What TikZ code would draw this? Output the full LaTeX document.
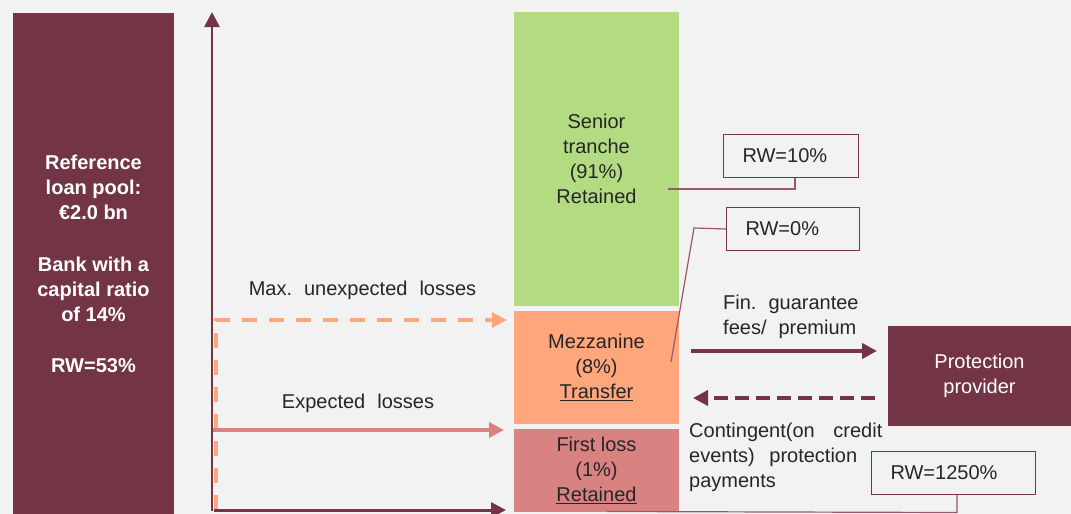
\documentclass[tikz,border=0pt]{standalone}
\usepackage{fontspec}
\setmainfont{Liberation Sans}
\usetikzlibrary{arrows.meta}
\definecolor{bg}{HTML}{F2F2F2}
\definecolor{maroon}{HTML}{733545}
\definecolor{sgreen}{HTML}{B3DC82}
\definecolor{morange}{HTML}{FFA67C}
\definecolor{fsalmon}{HTML}{D98282}
\definecolor{calloutc}{HTML}{9A5767}
\definecolor{txt}{HTML}{262626}
\newcommand\wsp{\hspace{12pt}}
\begin{document}
\begin{tikzpicture}[x=1pt,y=-1pt,
  every node/.style={font=\fontsize{20}{25}\selectfont, inner sep=0pt},
  block/.style={rectangle, align=center, text=txt, minimum width=165pt},
  rwbox/.style={draw=maroon, line width=1pt, minimum height=43pt, inner xsep=19pt, align=left, anchor=north west, text=txt},
  callout/.style={draw=calloutc, line width=1.2pt},
  tipA/.style={-{Triangle[length=15pt,width=15pt]}},
  lbl/.style={align=left, text=txt}
]
\useasboundingbox (0,0) rectangle (1071,514);
\fill[bg] (0,0) rectangle (1071,514);

% left pool box
\node[rectangle, fill=maroon, minimum width=161pt, minimum height=501pt, align=center, text=white, font=\fontsize{20}{25}\selectfont\bfseries] (pool) at (93.5,263.5)
  {Reference\\loan pool:\\€2.0 bn\\[27pt]Bank with a\\capital ratio\\of 14\%\\[26pt]RW=53\%};

% tranches
\node[block, fill=sgreen, minimum height=294pt] (senior) at (596.5,159) {Senior\\tranche\\(91\%)\\Retained};
\node[block, fill=morange, minimum height=113pt] (mezz) at (596.5,367.5) {Mezzanine\\(8\%)\\\underline{Transfer}};
\node[block, fill=fsalmon, minimum height=83pt] (first) at (596.5,470.5) {First loss\\(1\%)\\\underline{Retained}};

% protection provider
\node[rectangle, fill=maroon, minimum width=183pt, minimum height=100pt, align=center, text=white] (prot) at (979.5,376) {Protection\\provider};

% RW boxes
\node[rwbox, text width=97pt] (rw10) at (723,134) {RW=10\%};
\node[rwbox, text width=95pt] (rw0) at (726,207) {RW=0\%};
\node[rwbox, text width=126pt] (rw1250) at (871,451) {RW=1250\%};

% labels
\node[lbl] (maxlbl) at (362.5,290) {Max.\wsp unexpected\wsp losses};
\node[lbl] (explbl) at (358,403) {Expected\wsp losses};
\node[lbl, anchor=west] (finlbl) at (723,316.5) {Fin.\wsp guarantee\\fees/\wsp premium};
\node[lbl, anchor=west] (contlbl) at (689,457) {Contingent(on\hspace{18.6pt}credit\\events)\hspace{14.6pt}protection\\payments};

% coordinates
\coordinate (axbot) at (212,511);
\coordinate (axtop) at (212,12);
\coordinate (dstart) at (216,510);
\coordinate (dcorner) at (216,320);
\coordinate (dend) at (507,320);
\coordinate (estart) at (213,430);
\coordinate (eend) at (504,430);
\coordinate (bstart) at (214,510);
\coordinate (bend) at (506,510);
\coordinate (fstart) at (691,351);
\coordinate (fend) at (877,351);
\coordinate (cstart) at (875,398);
\coordinate (cend) at (693,398);
\coordinate (c10) at (668,189);
\coordinate (c0a) at (694,228);
\coordinate (c0) at (671,362);
\coordinate (c1250) at (607,511.5);

% axis
\draw[maroon, line width=2.7pt, tipA] (axbot) -- (axtop);
% dashed orange
\draw[morange, line width=3.2pt, dash pattern=on 15pt off 12pt, tipA] (dstart) -- (dcorner) -- (dend);
% expected
\draw[fsalmon, line width=3.5pt, tipA] (estart) -- (eend);
% bottom
\draw[maroon, line width=3pt, tipA] (bstart) -- (bend);
% fin guarantee
\draw[maroon, line width=4pt, tipA] (fstart) -- (fend);
% contingent dashed
\draw[maroon, line width=4.5pt, dash pattern=on 14pt off 7pt, tipA] (cstart) -- (cend);

% callouts
\draw[callout] ([xshift=4pt]rw10.south) -- ++(0,11) -- (c10);
\draw[callout] (rw0.west) -- (c0a) -- (c0);
\draw[callout] ([xshift=3.5pt]rw1250.south) -- ++(0,17.5) -- (c1250);
\end{tikzpicture}
\end{document}
